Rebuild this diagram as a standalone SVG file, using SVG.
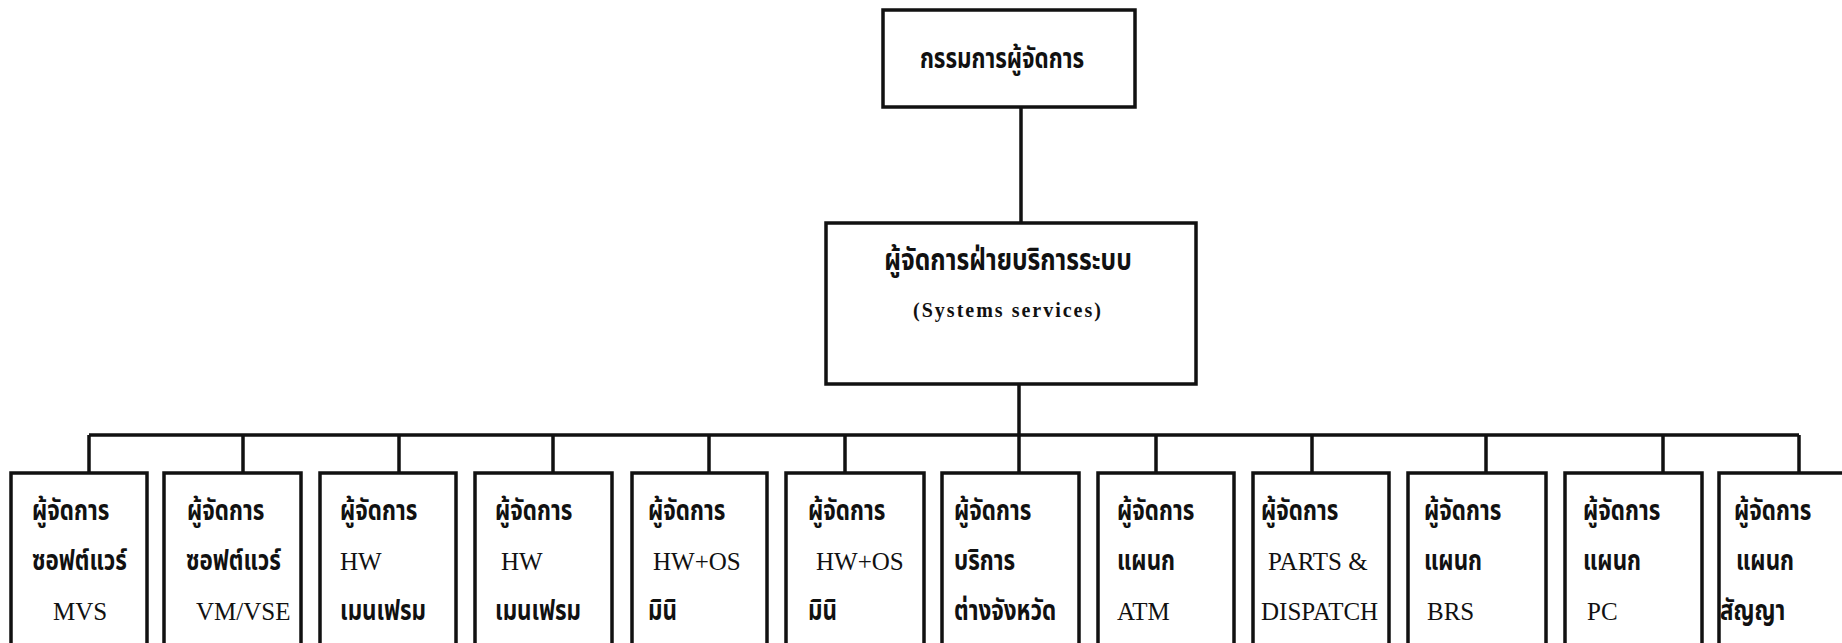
<svg xmlns="http://www.w3.org/2000/svg" width="1842" height="643" viewBox="0 0 1842 643">
  <style>
    .box { fill: none; stroke: #111; stroke-width: 3.5; }
    .wire { fill: none; stroke: #111; stroke-width: 3.5; }
    .th { font-family: "Noto Sans Thai", "Noto Sans Thai UI", "Loma", "Garuda", "Norasi", "Tlwg Typo", "Waree", "Sarabun", "Noto Sans", sans-serif; font-size: 28px; font-weight: bold; fill: #111; }
    .en { font-family: "Liberation Serif", "Times New Roman", serif; font-size: 25px; fill: #111; }
    .sub { font-family: "Liberation Serif", "Times New Roman", serif; font-size: 20px; font-weight: bold; letter-spacing: 2px; fill: #111; }
  </style>
  <rect x="0" y="0" width="1842" height="643" fill="#ffffff"/>

  <!-- connectors -->
  <g id="connectors">
    <line class="wire" x1="1021" y1="107" x2="1021" y2="223"/>
    <line class="wire" x1="1019" y1="384" x2="1019" y2="435"/>
    <line class="wire" x1="89" y1="435" x2="1799" y2="435"/>
    <line class="wire" x1="89" y1="435" x2="89" y2="473"/>
    <line class="wire" x1="243" y1="435" x2="243" y2="473"/>
    <line class="wire" x1="399" y1="435" x2="399" y2="473"/>
    <line class="wire" x1="553" y1="435" x2="553" y2="473"/>
    <line class="wire" x1="709" y1="435" x2="709" y2="473"/>
    <line class="wire" x1="845" y1="435" x2="845" y2="473"/>
    <line class="wire" x1="1019" y1="435" x2="1019" y2="473"/>
    <line class="wire" x1="1156" y1="435" x2="1156" y2="473"/>
    <line class="wire" x1="1312" y1="435" x2="1312" y2="473"/>
    <line class="wire" x1="1486" y1="435" x2="1486" y2="473"/>
    <line class="wire" x1="1663" y1="435" x2="1663" y2="473"/>
    <line class="wire" x1="1799" y1="435" x2="1799" y2="473"/>
  </g>

  <!-- top level -->
  <g id="md">
    <rect class="box" x="883" y="10" width="252" height="97"/>
    <text class="th" transform="translate(1002 68) scale(0.8 1)" text-anchor="middle">กรรมการผู้จัดการ</text>
  </g>

  <!-- division -->
  <g id="systems-services">
    <rect class="box" x="826" y="223" width="370" height="161"/>
    <text class="th" transform="translate(1008 270) scale(0.82 1)" text-anchor="middle" style="font-size:30px">ผู้จัดการฝ่ายบริการระบบ</text>
    <text class="sub" x="1008" y="317" text-anchor="middle">(Systems services)</text>
  </g>

  <!-- departments -->
  <g id="dept-mvs">
    <rect class="box" x="11" y="473" width="136" height="190"/>
    <text class="th" transform="translate(32 520) scale(0.8 1)">ผู้จัดการ</text>
    <text class="th" transform="translate(32 570) scale(0.8 1)">ซอฟต์แวร์</text>
    <text class="en" x="53" y="620">MVS</text>
  </g>
  <g id="dept-vmvse">
    <rect class="box" x="164" y="473" width="137" height="190"/>
    <text class="th" transform="translate(187 520) scale(0.8 1)">ผู้จัดการ</text>
    <text class="th" transform="translate(186 570) scale(0.8 1)">ซอฟต์แวร์</text>
    <text class="en" x="196" y="620">VM/VSE</text>
  </g>
  <g id="dept-hw-main-1">
    <rect class="box" x="320" y="473" width="136" height="190"/>
    <text class="th" transform="translate(340 520) scale(0.8 1)">ผู้จัดการ</text>
    <text class="en" x="340" y="570">HW</text>
    <text class="th" transform="translate(340 620) scale(0.8 1)">เมนเฟรม</text>
  </g>
  <g id="dept-hw-main-2">
    <rect class="box" x="475" y="473" width="137" height="190"/>
    <text class="th" transform="translate(495 520) scale(0.8 1)">ผู้จัดการ</text>
    <text class="en" x="501" y="570">HW</text>
    <text class="th" transform="translate(495 620) scale(0.8 1)">เมนเฟรม</text>
  </g>
  <g id="dept-mini-1">
    <rect class="box" x="632" y="473" width="135" height="190"/>
    <text class="th" transform="translate(648 520) scale(0.8 1)">ผู้จัดการ</text>
    <text class="en" x="653" y="570">HW+OS</text>
    <text class="th" transform="translate(648 620) scale(0.8 1)">มินิ</text>
  </g>
  <g id="dept-mini-2">
    <rect class="box" x="786" y="473" width="138" height="190"/>
    <text class="th" transform="translate(808 520) scale(0.8 1)">ผู้จัดการ</text>
    <text class="en" x="816" y="570">HW+OS</text>
    <text class="th" transform="translate(808 620) scale(0.8 1)">มินิ</text>
  </g>
  <g id="dept-provincial">
    <rect class="box" x="942" y="473" width="137" height="190"/>
    <text class="th" transform="translate(954 520) scale(0.8 1)">ผู้จัดการ</text>
    <text class="th" transform="translate(954 570) scale(0.8 1)">บริการ</text>
    <text class="th" transform="translate(954 620) scale(0.8 1)">ต่างจังหวัด</text>
  </g>
  <g id="dept-atm">
    <rect class="box" x="1098" y="473" width="136" height="190"/>
    <text class="th" transform="translate(1117 520) scale(0.8 1)">ผู้จัดการ</text>
    <text class="th" transform="translate(1117 570) scale(0.8 1)">แผนก</text>
    <text class="en" x="1117" y="620">ATM</text>
  </g>
  <g id="dept-parts">
    <rect class="box" x="1253" y="473" width="136" height="190"/>
    <text class="th" transform="translate(1261 520) scale(0.8 1)">ผู้จัดการ</text>
    <text class="en" x="1268" y="570">PARTS &amp;</text>
    <text class="en" x="1261" y="620">DISPATCH</text>
  </g>
  <g id="dept-brs">
    <rect class="box" x="1408" y="473" width="138" height="190"/>
    <text class="th" transform="translate(1424 520) scale(0.8 1)">ผู้จัดการ</text>
    <text class="th" transform="translate(1424 570) scale(0.8 1)">แผนก</text>
    <text class="en" x="1427" y="620">BRS</text>
  </g>
  <g id="dept-pc">
    <rect class="box" x="1565" y="473" width="137" height="190"/>
    <text class="th" transform="translate(1583 520) scale(0.8 1)">ผู้จัดการ</text>
    <text class="th" transform="translate(1583 570) scale(0.8 1)">แผนก</text>
    <text class="en" x="1587" y="620">PC</text>
  </g>
  <g id="dept-contract">
    <rect class="box" x="1719" y="473" width="140" height="190"/>
    <text class="th" transform="translate(1734 520) scale(0.8 1)">ผู้จัดการ</text>
    <text class="th" transform="translate(1736 570) scale(0.8 1)">แผนก</text>
    <text class="th" transform="translate(1720 620) scale(0.8 1)">สัญญา</text>
  </g>
</svg>
